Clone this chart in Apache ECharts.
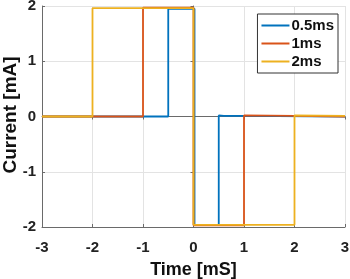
<!DOCTYPE html>
<html><head><meta charset="utf-8">
<script src="https://cdn.jsdelivr.net/npm/echarts@6/dist/echarts.min.js"></script>
<style>html,body{margin:0;padding:0;background:#fff}#c{width:350px;height:279px}</style>
</head><body><div id="c"></div>
<script>
const xTicks = [-3,-2,-1,0,1,2,3];
const yTicks = [-2,-1,0,1,2];
const seriesNames = ['0.5ms','1ms','2ms'];
const yTitle = 'Current [mA]';
const xTitle = 'Time [mS]';
const s05 = [[-3,0],[-0.5,0],[-0.5,1.95],[0.02,1.95],[0.02,-1.96],[0.5,-1.96],[0.5,0.02],[0.6,0.01],[1,0.01],[3,0]];
const s1 = [[-3,0],[-1,0],[-1,1.97],[0,1.97],[0,-1.97],[1,-1.97],[1,0.02],[2,0.01],[3,0]];
const s2 = [[-3,0],[-2,0],[-2,1.96],[0,1.96],[0,-1.96],[2,-1.96],[2,0.02],[3,0.01]];
const colors = ['#0072BD','#D95319','#EDB120'];
const font = 'Liberation Sans, Arial, sans-serif';
const chart = echarts.init(document.getElementById('c'));
const axisCommon = {
  axisLine:{show:true,onZero:false,lineStyle:{color:'#6a6a6a',width:1}},
  axisTick:{show:true,inside:true,length:3,lineStyle:{color:'#6a6a6a'}},
  splitLine:{show:true,lineStyle:{color:'#e3e3e3',width:1}},
  axisLabel:{color:'#222',fontWeight:'bold',fontSize:15,fontFamily:font},
};
chart.setOption({
  animation:false,
  color:colors,
  grid:{left:42,right:5,top:6,bottom:52,containLabel:false,outerBoundsMode:'none'},
  legend:{
    data:seriesNames, orient:'vertical', right:12, top:14,
    backgroundColor:'#fff', borderColor:'#333', borderWidth:1, padding:[4,4,4,4],
    itemWidth:28, itemHeight:2, itemGap:3, icon:'rect',
    textStyle:{color:'#111',fontWeight:'bold',fontSize:15,fontFamily:font,padding:[0,0,0,-3]}
  },
  graphic:[{type:'text',x:11,y:115,rotation:Math.PI/2,
    style:{text:yTitle,fill:'#111',font:'bold 19px '+font,textAlign:'center',textVerticalAlign:'middle'}}],
  xAxis:[{type:'value',min:-3,max:3,interval:1,...axisCommon,
    axisLabel:{...axisCommon.axisLabel,margin:13},
    name:xTitle,nameLocation:'middle',nameGap:34,
    nameTextStyle:{color:'#111',fontWeight:'bold',fontSize:18,fontFamily:font}},
    {type:'value',min:-3,max:3,interval:1,position:'top',axisLine:{show:true,lineStyle:{color:'#6a6a6a'}},axisTick:{show:true,inside:true,length:3,lineStyle:{color:'#6a6a6a'}},axisLabel:{show:false},splitLine:{show:false}}],
  yAxis:[{type:'value',min:-2,max:2,interval:1,...axisCommon,
    axisLabel:{...axisCommon.axisLabel,margin:6}},
    {type:'value',min:-2,max:2,interval:1,position:'right',axisLine:{show:true,lineStyle:{color:'#6a6a6a'}},axisTick:{show:true,inside:true,length:3,lineStyle:{color:'#6a6a6a'}},axisLabel:{show:false},splitLine:{show:false}}],
  series:[
    {name:seriesNames[0],type:'line',data:s05,showSymbol:false,lineStyle:{width:1.8}},
    {name:seriesNames[1],type:'line',data:s1,showSymbol:false,lineStyle:{width:1.8}},
    {name:seriesNames[2],type:'line',data:s2,showSymbol:false,lineStyle:{width:1.8}}
  ]
});
</script></body></html>
